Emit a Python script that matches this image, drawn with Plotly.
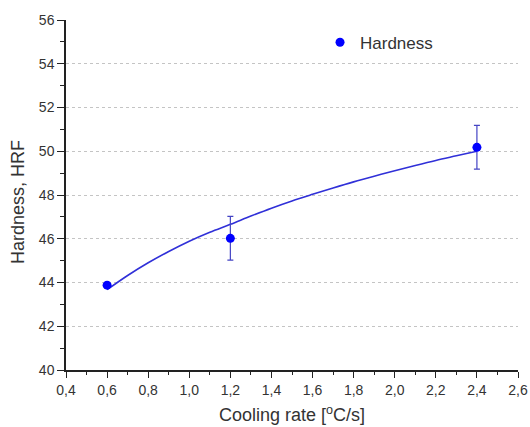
import plotly.graph_objects as go

# Measured points
cooling_rate = [0.6, 1.2, 2.4]
hardness = [43.88, 46.02, 50.18]
hardness_err = [0.1, 1.0, 1.0]

# Fitted curve
fit_x = [0.6, 0.7, 0.8, 0.9, 1.0, 1.1, 1.2, 1.3, 1.4, 1.5, 1.6, 1.7, 1.8, 1.9, 2.0, 2.1, 2.2, 2.3, 2.4]
fit_y = [43.67, 44.32, 44.90, 45.42, 45.89, 46.30, 46.66, 47.04, 47.40, 47.73, 48.03, 48.32, 48.60, 48.86, 49.11, 49.35, 49.58, 49.79, 50.0]

x_ticks = [0.4, 0.6, 0.8, 1.0, 1.2, 1.4, 1.6, 1.8, 2.0, 2.2, 2.4, 2.6]
y_ticks = [40, 42, 44, 46, 48, 50, 52, 54, 56]

x_title = "Cooling rate [<sup>o</sup>C/s]"
y_title = "Hardness, HRF"

FONT = "Liberation Sans, Arial, sans-serif"
TXT = "#333333"

fig = go.Figure()
fig.add_trace(go.Scatter(
    x=fit_x, y=fit_y, mode="lines",
    line=dict(color="#3030d8", width=1.6, shape="spline"),
    showlegend=False, hoverinfo="skip",
))
fig.add_trace(go.Scatter(
    x=cooling_rate, y=hardness, mode="markers", name="Hardness",
    marker=dict(color="#0000ff", size=9),
    error_y=dict(type="data", array=hardness_err, visible=True,
                 color="#4444c4", thickness=1.2, width=3),
))

fig.update_layout(
    width=530, height=427,
    margin=dict(l=66, r=12, t=20, b=57),
    paper_bgcolor="white", plot_bgcolor="white",
    separators=",.",
    font=dict(family=FONT, size=14, color=TXT),
    showlegend=True,
    legend=dict(x=0.562, y=0.935, xanchor="left", yanchor="middle",
                bgcolor="rgba(0,0,0,0)", font=dict(size=17, color=TXT)),
    xaxis=dict(
        range=[0.4, 2.6], tickvals=x_ticks, tickformat=".1f",
        automargin=False,
        showline=True, linecolor="#222222", linewidth=1.5,
        ticks="outside", ticklen=6, tickwidth=1.2, tickcolor="#222222",
        minor=dict(ticks="outside", ticklen=3, tickwidth=1, tickcolor="#222222", dtick=0.1, tick0=0.4),
        showgrid=False, zeroline=False,
        title=dict(text=x_title, font=dict(size=18, color=TXT), standoff=12),
        tickfont=dict(size=14, color=TXT),
    ),
    yaxis=dict(
        range=[40, 56], tickvals=y_ticks,
        automargin=False,
        showline=True, linecolor="#222222", linewidth=1.5,
        ticks="outside", ticklen=7, tickwidth=1.2, tickcolor="#222222",
        minor=dict(ticks="outside", ticklen=4, tickwidth=1, tickcolor="#222222", dtick=1, tick0=40),
        showgrid=True, gridcolor="#c4c4c4", griddash="dot", gridwidth=1,
        zeroline=False,
        tickfont=dict(size=14, color=TXT),
    ),
    annotations=[dict(
        text=y_title, textangle=-90, xref="paper", yref="paper",
        x=-0.106, y=0.48, xanchor="center", yanchor="middle",
        showarrow=False, font=dict(size=18, color=TXT),
    )],
)

# remove the page's default body margin so the figure sits at the window's corner
fig.write_html("out.html", config={"displayModeBar": False},
               post_script="document.body.style.margin='0';")
